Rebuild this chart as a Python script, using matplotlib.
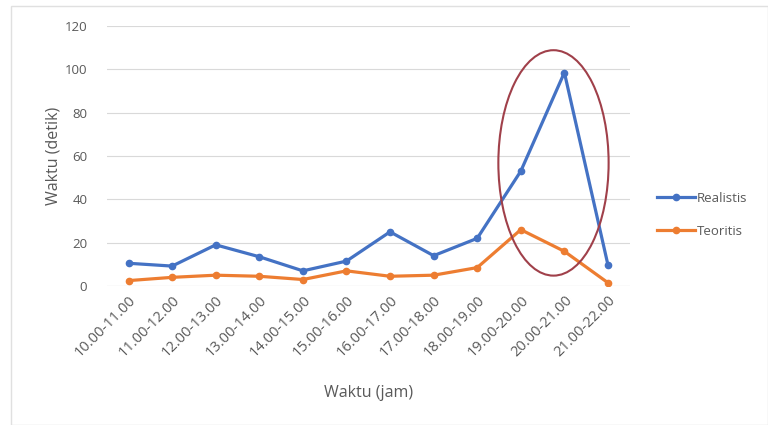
import numpy as np
import matplotlib.pyplot as plt
from matplotlib.patches import Ellipse, Rectangle

plt.rcParams['font.family'] = ['Open Sans', 'DejaVu Sans']

jam = ['10.00-11.00', '11.00-12.00', '12.00-13.00', '13.00-14.00',
       '14.00-15.00', '15.00-16.00', '16.00-17.00', '17.00-18.00',
       '18.00-19.00', '19.00-20.00', '20.00-21.00', '21.00-22.00']
realistis = [10.5, 9.2, 19, 13.5, 7, 11.5, 25, 14, 22, 53, 98.5, 9.7]
teoritis = [2.5, 4, 5, 4.5, 3, 7, 4.5, 5, 8.5, 26, 16, 1.5]

blue = '#4472C4'
orange = '#ED7D31'
grey = '#595959'

fig = plt.figure(figsize=(7.68, 4.25), dpi=100)
ax = fig.add_axes([0.139, 0.327, 0.681, 0.612])

x = np.arange(len(jam))
ax.plot(x, realistis, color=blue, lw=2.3, marker='o', ms=4.5, label='Realistis', zorder=3)
ax.plot(x, teoritis, color=orange, lw=2.3, marker='o', ms=4.5, label='Teoritis', zorder=3)

ax.set_xlim(-0.5, len(jam) - 0.5)
ax.set_ylim(0, 120)
ax.set_yticks(np.arange(0, 121, 20))
ax.set_xticks(x)
ax.set_xticklabels(jam, rotation=45, ha='right', rotation_mode='anchor')
ax.tick_params(axis='y', length=0, labelsize=9.5, labelcolor=grey, pad=14)
ax.tick_params(axis='x', length=0, labelsize=10.5, labelcolor=grey, pad=5)
ax.grid(axis='y', color='#D9D9D9', lw=0.8)
ax.set_axisbelow(True)
for s in ax.spines.values():
    s.set_visible(False)
ax.axhline(0, color='#D9D9D9', lw=0.8, zorder=1)

ax.set_ylabel('Waktu (detik)', fontsize=11.5, color=grey, labelpad=2)
ax.set_xlabel('Waktu (jam)', fontsize=11.5, color=grey, labelpad=18)

# highlight the evening peak
ax.add_patch(Ellipse((9.75, 56.8), 2.53, 104, fill=False, ec='#A0404A', lw=1.5, zorder=4))

fig.legend(loc='center left', bbox_to_anchor=(0.84, 0.495), frameon=False,
           fontsize=9.5, labelcolor=grey, handlelength=2.9, handletextpad=0.15,
           labelspacing=1.5)

fig.add_artist(Rectangle((0.014, 0.0), 0.986, 0.985, transform=fig.transFigure,
                         fill=False, ec='#E0E0E0', lw=1))

fig.savefig('out.png', dpi=100)
